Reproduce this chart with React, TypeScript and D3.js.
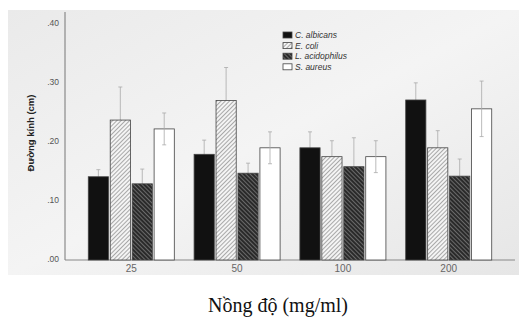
import { scaleBand, scaleLinear, format } from "d3";

const GROUPS = ["25", "50", "100", "200"];
const SERIES = ["C. albicans", "E. coli", "L. acidophilus", "S. aureus"];
// mean values per series, in group order
const C_ALBICANS = [0.141, 0.179, 0.19, 0.271];
const E_COLI = [0.237, 0.27, 0.175, 0.19];
const L_ACIDOPHILUS = [0.129, 0.147, 0.158, 0.142];
const S_AUREUS = [0.222, 0.19, 0.175, 0.256];
// error (sd) per series
const C_ALBICANS_ERR = [0.012, 0.024, 0.027, 0.029];
const E_COLI_ERR = [0.056, 0.056, 0.027, 0.029];
const L_ACIDOPHILUS_ERR = [0.025, 0.017, 0.049, 0.029];
const S_AUREUS_ERR = [0.027, 0.027, 0.027, 0.047];
const Y_TICKS = [0, 0.1, 0.2, 0.3, 0.4];

const VALUES = [C_ALBICANS, E_COLI, L_ACIDOPHILUS, S_AUREUS];
const ERRS = [C_ALBICANS_ERR, E_COLI_ERR, L_ACIDOPHILUS_ERR, S_AUREUS_ERR];
const FILLS = ["#111", "url(#hatchLight)", "url(#hatchDark)", "#fff"];

const W = 519, H = 325;
const AX = 65, Y0 = 260, YTOP = 12, XEND = 515;

export default function App() {
  const x0 = scaleBand().domain(GROUPS).range([AX, XEND]).paddingInner(0.187).paddingOuter(0.22);
  const x1 = scaleBand().domain(SERIES).range([0, x0.bandwidth()]).paddingInner(0.08);
  const y = scaleLinear().domain([0, 0.42]).range([Y0, YTOP]);
  const fmt = (t: number) => format(".2f")(t).replace(/^0/, "");
  const legX = 283, legY = 32;

  const errBar = (gi: number, si: number) => {
    const v = VALUES[si][gi], e = ERRS[si][gi];
    const cx = (x1(SERIES[si]) ?? 0) + x1.bandwidth() / 2;
    return (
      <g key={"e" + si} stroke="#aaa" strokeWidth={0.8}>
        <line x1={cx} x2={cx} y1={y(v + e)} y2={y(v - e)} />
        <line x1={cx - 2} x2={cx + 2} y1={y(v + e)} y2={y(v + e)} />
        <line x1={cx - 2} x2={cx + 2} y1={y(v - e)} y2={y(v - e)} />
      </g>
    );
  };

  return (
    <svg width={W} height={H} style={{ position: "absolute", left: 0, top: 0 }}>
      <defs>
        <pattern id="hatchLight" width={3} height={3} patternUnits="userSpaceOnUse" patternTransform="rotate(45)">
          <rect width={3} height={3} fill="#f4f4f4" />
          <line x1={0} y1={0} x2={0} y2={3} stroke="#777" strokeWidth={1.2} />
        </pattern>
        <pattern id="hatchDark" width={3} height={3} patternUnits="userSpaceOnUse" patternTransform="rotate(-45)">
          <rect width={3} height={3} fill="#2a2a2a" />
          <line x1={0} y1={0} x2={0} y2={3} stroke="#aaa" strokeWidth={1} />
        </pattern>
        <linearGradient id="bg" x1="0" y1="0" x2="1" y2="1">
          <stop offset="0" stopColor="#eaeaea" />
          <stop offset="0.5" stopColor="#f4f4f4" />
          <stop offset="1" stopColor="#e6e6e6" />
        </linearGradient>
      </defs>
      <rect width={W} height={H} fill="#fff" />
      <rect x={8} y={10} width={W - 8} height={265} fill="url(#bg)" />

      {/* axes */}
      <line x1={AX} x2={AX} y1={YTOP} y2={Y0} stroke="#777" />
      <line x1={AX} x2={XEND} y1={Y0} y2={Y0} stroke="#888" />
      {Y_TICKS.map(t => (
        <text key={t} x={AX - 6} y={y(t)} textAnchor="end" dominantBaseline="middle"
          fontSize={8.5} fill="#555" fontFamily="Liberation Sans, Arial, sans-serif">{fmt(t)}</text>
      ))}
      {GROUPS.map(g => (
        <text key={g} x={(x0(g) ?? 0) + x0.bandwidth() / 2} y={Y0 + 12} textAnchor="middle"
          fontSize={10} fill="#666" fontFamily="Liberation Sans, Arial, sans-serif">{g}</text>
      ))}
      <text transform={`translate(34,133) rotate(-90)`} textAnchor="middle"
        fontSize={9.5} fontWeight="bold" fill="#222" fontFamily="Liberation Sans, Arial, sans-serif">
        Đường kính (cm)
      </text>

      {/* error bars sit behind the bars, except on the open S. aureus bars */}
      {GROUPS.map((g, gi) => (
        <g key={g} transform={`translate(${x0(g)},0)`}>
          {SERIES.map((_, si) => si < 3 ? errBar(gi, si) : null)}
          {SERIES.map((s, si) => {
            const v = VALUES[si][gi];
            return (
              <rect key={s} x={x1(s) ?? 0} y={y(v)} width={x1.bandwidth()} height={Y0 - y(v)}
                fill={FILLS[si]} stroke="#444" strokeWidth={0.8} />
            );
          })}
          {errBar(gi, 3)}
        </g>
      ))}

      {/* legend */}
      {SERIES.map((s, i) => (
        <g key={s} transform={`translate(${legX},${legY + i * 10.6})`}>
          <rect width={9} height={6} fill={FILLS[i]} stroke="#444" strokeWidth={0.8} />
          <text x={12} y={6} fontSize={8.5} fontStyle="italic" fill="#333"
            fontFamily="Liberation Sans, Arial, sans-serif">{s}</text>
        </g>
      ))}

      <text x={278} y={312} textAnchor="middle" fontSize={20} fill="#111"
        fontFamily="Liberation Serif, Times New Roman, serif">Nồng độ (mg/ml)</text>
    </svg>
  );
}
